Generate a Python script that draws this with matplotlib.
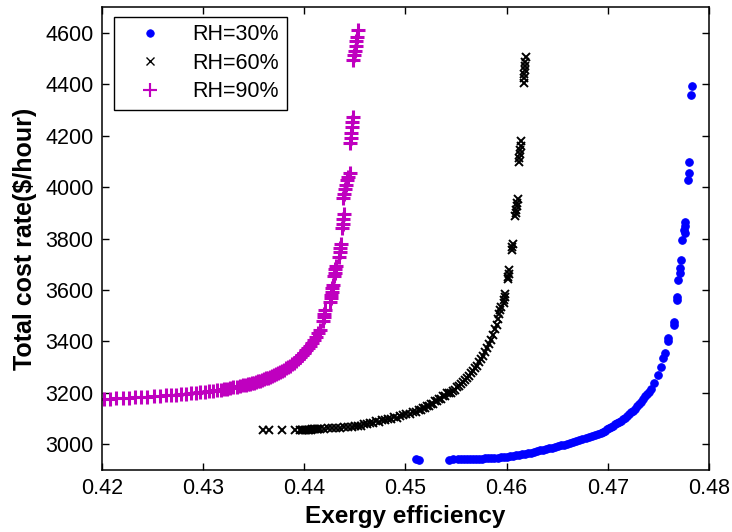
import matplotlib
matplotlib.use("Agg")
import matplotlib.pyplot as plt
from matplotlib.ticker import FormatStrFormatter

plt.rcParams["font.family"] = ["Liberation Sans", "DejaVu Sans"]

# ---- RH = 30 % ----
rh30_eff = [
    0.4510, 0.4513, 0.4543, 0.4547,
    0.4552, 0.4555, 0.4558, 0.4561, 0.4564, 0.4567, 0.4570, 0.4573, 0.4576, 0.4579,
    0.4582, 0.4585, 0.4588, 0.4591, 0.4594, 0.4597, 0.4600, 0.4603, 0.4606, 0.4609,
    0.4612, 0.4615, 0.4618, 0.4621, 0.4624, 0.4627, 0.4630, 0.4633, 0.4636, 0.4639,
    0.4642, 0.4645, 0.4648, 0.4651, 0.4654, 0.4657, 0.4660, 0.4663, 0.4666, 0.4669,
    0.4672, 0.4675, 0.4678, 0.4681, 0.4684, 0.4687, 0.4690, 0.4693, 0.4695, 0.4697,
    0.4699, 0.4701, 0.4703, 0.4705, 0.4707, 0.4709, 0.4711, 0.4713, 0.4715, 0.4717,
    0.4719, 0.4721, 0.4723, 0.4725, 0.4727, 0.4729, 0.4731, 0.4733, 0.4735, 0.4737,
    0.4739, 0.4741, 0.4743,
    0.4746, 0.4750, 0.4753, 0.4755, 0.4757, 0.4760, 0.4760, 0.4765, 0.4765, 0.4768,
    0.4768, 0.4769, 0.4771, 0.4771, 0.4772, 0.4773, 0.4776, 0.4775, 0.4776, 0.4776,
    0.4779, 0.4780, 0.4780, 0.4782, 0.4783,
]
rh30_cost = [
    2941, 2940, 2940, 2941,
    2941, 2941, 2942, 2942, 2942, 2943, 2943, 2944, 2944, 2945,
    2946, 2946, 2947, 2948, 2949, 2950, 2952, 2953, 2955, 2957,
    2959, 2962, 2964, 2966, 2968, 2971, 2973, 2976, 2978, 2981,
    2984, 2987, 2990, 2993, 2996, 2999, 3002, 3005, 3009, 3012,
    3016, 3020, 3024, 3028, 3032, 3036, 3040, 3043, 3048, 3053,
    3058, 3063, 3068, 3073, 3077, 3081, 3086, 3092, 3098, 3104,
    3110, 3117, 3124, 3131, 3139, 3147, 3156, 3165, 3175, 3186,
    3197, 3204, 3215,
    3239, 3270, 3301, 3336, 3355, 3402, 3414, 3464, 3476, 3561,
    3573, 3639, 3666, 3685, 3716, 3794, 3821, 3833, 3849, 3864,
    4027, 4054, 4097, 4357, 4392,
]

# ---- RH = 60 % ----
rh60_eff = [
    0.4359, 0.4365, 0.4378, 0.4391,
    0.4396, 0.43975, 0.4399, 0.44005, 0.4402, 0.44035, 0.4405, 0.44065, 0.4408,
    0.44095, 0.4411, 0.44125, 0.4414, 0.4416,
    0.4419, 0.4423, 0.4427, 0.4431, 0.4435, 0.4439, 0.4443, 0.4447, 0.4450, 0.4453,
    0.4456, 0.4459, 0.4462, 0.4465, 0.4468, 0.4471, 0.4474, 0.4477, 0.4480, 0.4483,
    0.4486, 0.4489, 0.4492, 0.4495, 0.4498, 0.4501, 0.4504, 0.4507, 0.4510, 0.4513,
    0.4515, 0.4517, 0.4519, 0.4521, 0.4523, 0.4525, 0.4527, 0.4529, 0.4531, 0.4533,
    0.4535, 0.4537, 0.4539, 0.4541, 0.4543, 0.4545, 0.4547, 0.4549, 0.4551, 0.4553,
    0.4555, 0.4557, 0.4559, 0.4561, 0.4563, 0.4565, 0.4567, 0.4569, 0.4571, 0.4573,
    0.4575, 0.4577, 0.4579, 0.4581, 0.4583, 0.4585, 0.4587, 0.4589, 0.4590, 0.4591,
    0.4592, 0.4593, 0.4594,
    0.4597, 0.4597, 0.4598, 0.4598,
    0.4601, 0.4601, 0.4602, 0.4602,
    0.4605, 0.4605, 0.4606,
    0.4608, 0.4609, 0.4609, 0.4610, 0.4610, 0.4611,
    0.4612, 0.4612, 0.4613, 0.4613, 0.4614, 0.4614,
    0.4617, 0.4617, 0.4617, 0.4618, 0.4618, 0.4618, 0.4619,
]
rh60_cost = [
    3054, 3054, 3054, 3055,
    3055, 3055, 3056, 3056, 3056, 3057, 3057, 3057, 3058,
    3058, 3059, 3059, 3060, 3060,
    3061, 3063, 3062, 3065, 3064, 3067, 3066, 3069, 3070, 3073,
    3072, 3077, 3079, 3083, 3084, 3089, 3088, 3094, 3094, 3099,
    3098, 3105, 3104, 3111, 3112, 3119, 3118, 3125, 3125, 3132,
    3133, 3141, 3140, 3149, 3150, 3158, 3158, 3167, 3168, 3177,
    3178, 3188, 3189, 3199, 3201, 3200, 3208, 3212, 3221, 3226,
    3233, 3243, 3249, 3259, 3266, 3277, 3285, 3296, 3306, 3320,
    3330, 3345, 3357, 3374, 3388, 3407, 3424, 3447, 3465, 3487,
    3505, 3522, 3534,
    3548, 3561, 3574, 3586,
    3641, 3652, 3664, 3676,
    3757, 3768, 3780,
    3886, 3898, 3910, 3925, 3940, 3955,
    4098, 4112, 4128, 4145, 4160, 4178,
    4405, 4425, 4440, 4455, 4470, 4485, 4505,
]

# ---- RH = 90 % ----
rh90_eff = [
    0.4202, 0.4208, 0.4214, 0.4221, 0.4227, 0.4233, 0.4239, 0.4245, 0.4251, 0.4257,
    0.4263, 0.4268, 0.4273, 0.4278, 0.4283, 0.4288, 0.4293, 0.4297, 0.4302, 0.4306,
    0.4310, 0.4314, 0.4318, 0.4321, 0.4324, 0.4327, 0.4330, 0.4333, 0.4336, 0.4339,
    0.4342, 0.4344, 0.4346, 0.4348, 0.4350, 0.4352, 0.4354, 0.4356, 0.4358, 0.4360,
    0.4362, 0.4364, 0.4366, 0.4368, 0.4370, 0.4372, 0.4374, 0.4376, 0.4378, 0.4380,
    0.4382, 0.4384, 0.4386, 0.4388, 0.4390, 0.4392, 0.4394, 0.4396, 0.4398, 0.4400,
    0.4402, 0.4404, 0.4406, 0.4408, 0.4410, 0.4412, 0.4414, 0.4416,
    0.4418, 0.4419, 0.4419, 0.4420,
    0.4425, 0.4426, 0.4426, 0.4427, 0.4427, 0.4428,
    0.4429, 0.4430, 0.4430, 0.4431,
    0.4434, 0.4435, 0.4435, 0.4436,
    0.4437, 0.4438, 0.4438, 0.4439,
    0.4438, 0.4439, 0.4440, 0.4441, 0.4442, 0.4443, 0.4445,
    0.4445, 0.4446, 0.4446, 0.4447, 0.4447, 0.4448,
    0.4448, 0.4449, 0.4450, 0.4451, 0.4451, 0.4452, 0.4453,
]
rh90_cost = [
    3177, 3178, 3179, 3180, 3181, 3182, 3184, 3185, 3187, 3189,
    3190, 3192, 3193, 3195, 3197, 3198, 3200, 3202, 3204, 3206,
    3208, 3210, 3212, 3214, 3216, 3218, 3221, 3223, 3226, 3229,
    3231, 3233, 3236, 3238, 3240, 3242, 3245, 3247, 3250, 3253,
    3256, 3259, 3262, 3265, 3269, 3273, 3277, 3281, 3285, 3290,
    3295, 3300, 3306, 3312, 3318, 3325, 3332, 3340, 3348, 3356,
    3365, 3374, 3384, 3395, 3406, 3418, 3431, 3445,
    3478, 3493, 3508, 3522,
    3555, 3568, 3581, 3594, 3607, 3620,
    3655, 3667, 3680, 3692,
    3730, 3747, 3764, 3780,
    3840, 3858, 3877, 3895,
    3958, 3975, 3992, 4010, 4028, 4040, 4054,
    4172, 4192, 4212, 4232, 4252, 4272,
    4495, 4512, 4530, 4548, 4566, 4585, 4610,
]

labels = ["RH=30%", "RH=60%", "RH=90%"]
x_ticks = [0.42, 0.43, 0.44, 0.45, 0.46, 0.47, 0.48]
y_ticks = [3000, 3200, 3400, 3600, 3800, 4000, 4200, 4400, 4600]

fig = plt.figure(figsize=(7.32, 5.32), dpi=100)
ax = fig.add_axes([0.1393, 0.1165, 0.8292, 0.8703])

ax.plot(rh30_eff, rh30_cost, linestyle="none", marker="o", markersize=5.4,
        color="#0000FF", markeredgewidth=0.8, label=labels[0])
ax.plot(rh60_eff, rh60_cost, linestyle="none", marker="x", markersize=5.5,
        color="black", markeredgewidth=1.4, label=labels[1])
ax.plot(rh90_eff, rh90_cost, linestyle="none", marker="+", markersize=10,
        color="#BF00BF", markeredgewidth=2.2, label=labels[2])

ax.set_xlim(0.42, 0.48)
ax.set_ylim(2900, 4700)
ax.set_xticks(x_ticks)
ax.set_yticks(y_ticks)
ax.xaxis.set_major_formatter(FormatStrFormatter("%.2f"))
ax.tick_params(direction="in", length=5, width=1, top=True, right=True,
               labelsize=15.5, pad=6)
for sp in ax.spines.values():
    sp.set_linewidth(1.1)

ax.set_xlabel("Exergy efficiency", fontsize=17.5, fontweight="bold", labelpad=4)
ax.set_ylabel("Total cost rate($/hour)", fontsize=18, fontweight="bold", labelpad=6)

leg = ax.legend(loc="upper left", bbox_to_anchor=(0.0198, 0.979), borderaxespad=0,
                fontsize=15.5, fancybox=False, framealpha=1, edgecolor="black",
                handlelength=2.6, handletextpad=0.7, labelspacing=0.35,
                borderpad=0.35, numpoints=1)
leg.get_frame().set_linewidth(1.0)
# legend markers a little lighter than the plotted ones
for h in leg.legend_handles:
    h.set_markeredgewidth(h.get_markeredgewidth() * 0.7)

fig.savefig("out.png", dpi=100)
